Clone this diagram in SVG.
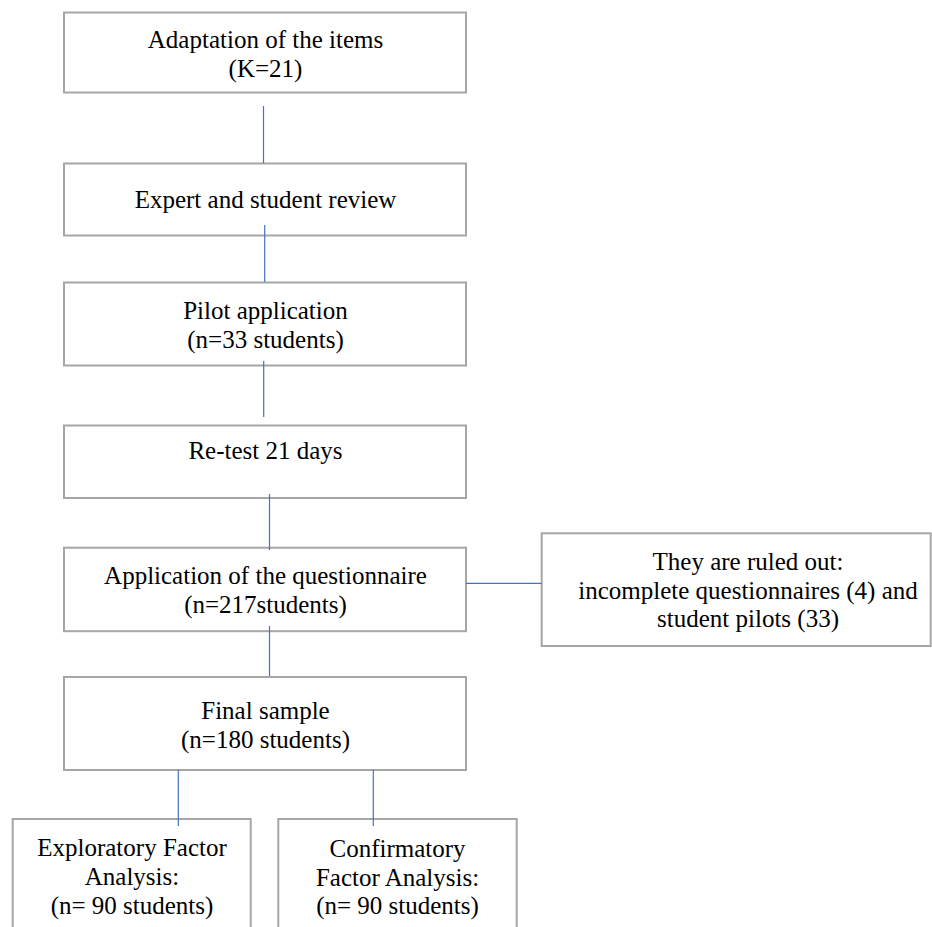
<svg xmlns="http://www.w3.org/2000/svg" width="932" height="927" viewBox="0 0 932 927">
<style>
.box{fill:#ffffff;stroke:#a6a6a6;stroke-width:2}
.lbl{font-family:"Liberation Serif","Times New Roman",serif;font-size:25px;fill:#000000;text-anchor:middle}
.conn{stroke:#4472c4;stroke-width:1.2;fill:none}
</style>
<rect width="932" height="927" fill="#ffffff"/>
<g id="n1">
<rect class="box" x="64" y="12.5" width="402" height="80"/>
<text class="lbl" x="265.5" y="47.5">Adaptation of the items</text>
<text class="lbl" x="265.5" y="76.5">(K=21)</text>
</g>
<g id="n2">
<rect class="box" x="64" y="163.5" width="402" height="72"/>
<text class="lbl" x="265.5" y="208">Expert and student review</text>
</g>
<g id="n3">
<rect class="box" x="64" y="282.5" width="402" height="83"/>
<text class="lbl" x="265.5" y="318.5">Pilot application</text>
<text class="lbl" x="265.5" y="347.5">(n=33 students)</text>
</g>
<g id="n4">
<rect class="box" x="64" y="425.5" width="402" height="72.5"/>
<text class="lbl" x="265.5" y="458.5">Re-test 21 days</text>
</g>
<g id="n5">
<rect class="box" x="64" y="547.7" width="402" height="83.5"/>
<text class="lbl" x="265.5" y="583.5">Application of the questionnaire</text>
<text class="lbl" x="265.5" y="612.5">(n=217students)</text>
</g>
<g id="n6">
<rect class="box" x="541.7" y="533.3" width="389" height="112.7"/>
<text class="lbl" x="748" y="570">They are ruled out:</text>
<text class="lbl" x="748" y="598.5">incomplete questionnaires (4) and</text>
<text class="lbl" x="748" y="627">student pilots (33)</text>
</g>
<g id="n7">
<rect class="box" x="64" y="677" width="402" height="93"/>
<text class="lbl" x="265.5" y="718.5">Final sample</text>
<text class="lbl" x="265.5" y="747.5">(n=180 students)</text>
</g>
<g id="n8">
<rect class="box" x="12.7" y="819" width="238" height="130"/>
<text class="lbl" x="132" y="856">Exploratory Factor</text>
<text class="lbl" x="132" y="885">Analysis:</text>
<text class="lbl" x="132" y="914">(n= 90 students)</text>
</g>
<g id="n9">
<rect class="box" x="278.3" y="819" width="238.4" height="130"/>
<text class="lbl" x="397.5" y="857">Confirmatory</text>
<text class="lbl" x="397.5" y="885.5">Factor Analysis:</text>
<text class="lbl" x="397.5" y="914">(n= 90 students)</text>
</g>
<g id="connectors">
<line class="conn" x1="263.5" y1="106" x2="263.5" y2="163"/>
<line class="conn" x1="264.7" y1="225" x2="264.7" y2="282"/>
<line class="conn" x1="263.7" y1="361" x2="263.7" y2="417"/>
<line class="conn" x1="269.5" y1="494" x2="269.5" y2="550"/>
<line class="conn" x1="269.5" y1="626" x2="269.5" y2="676"/>
<line class="conn" x1="466" y1="583.3" x2="541.7" y2="583.3"/>
<line class="conn" x1="178.3" y1="770" x2="178.3" y2="826"/>
<line class="conn" x1="373.3" y1="770" x2="373.3" y2="826"/>
</g>
</svg>
